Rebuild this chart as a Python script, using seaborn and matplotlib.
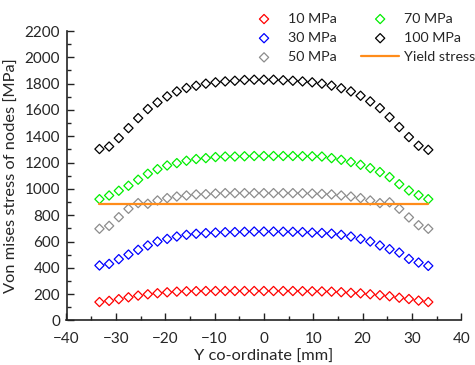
import seaborn as sns
import matplotlib.pyplot as plt
from matplotlib.ticker import MultipleLocator

# Node positions along the section [mm]
y_coord = [-33.32, -31.36, -29.40, -27.44, -25.48, -23.52, -21.56, -19.60, -17.64,
           -15.68, -13.72, -11.76, -9.80, -7.84, -5.88, -3.92, -1.96, 0.00,
           1.96, 3.92, 5.88, 7.84, 9.80, 11.76, 13.72, 15.68, 17.64,
           19.60, 21.56, 23.52, 25.48, 27.44, 29.40, 31.36, 33.32]

# Von mises stress per load case [MPa]
stress_10 = [140, 149, 162, 176, 189, 199, 207, 214, 219, 222, 223, 224, 224, 224, 224, 224, 224,
             224,
             224, 224, 224, 223, 222, 221, 219, 215, 210, 206, 199, 192, 184, 173, 163, 151, 140]
stress_30 = [418, 430, 466, 501, 537, 570, 600, 620, 638, 651, 659, 664, 668, 671, 672, 674, 676,
             676,
             676, 675, 674, 672, 668, 665, 660, 651, 638, 620, 600, 570, 542, 516, 468, 440, 415]
stress_50 = [697, 719, 785, 849, 892, 887, 912, 930, 942, 950, 958, 960, 965, 968, 968, 968, 968,
             968,
             968, 968, 968, 967, 965, 962, 958, 950, 942, 930, 912, 892, 898, 849, 783, 724, 697]
stress_70 = [922, 950, 986, 1024, 1070, 1115, 1150, 1178, 1196, 1214, 1227, 1234, 1242, 1246, 1246, 1248, 1250,
             1250,
             1250, 1250, 1250, 1249, 1248, 1246, 1234, 1221, 1204, 1183, 1158, 1128, 1090, 1036, 988, 952, 922]
stress_100 = [1303, 1322, 1386, 1462, 1538, 1607, 1657, 1703, 1741, 1767, 1784, 1800, 1810, 1817, 1822, 1828, 1830,
              1830,
              1830, 1826, 1822, 1817, 1810, 1800, 1785, 1765, 1741, 1708, 1665, 1614, 1545, 1470, 1394, 1328, 1297]
yield_stress = 887

series = [
    ('10 MPa', stress_10, '#ff0000'),
    ('30 MPa', stress_30, '#0000ff'),
    ('50 MPa', stress_50, '#8c8c8c'),
    ('70 MPa', stress_70, '#00ee00'),
    ('100 MPa', stress_100, '#000000'),
]

sns.set_style('ticks')
plt.rcParams['font.family'] = ['Lato', 'DejaVu Sans']

fig, ax = plt.subplots(figsize=(4.75, 3.65), dpi=100)
fig.subplots_adjust(left=0.140, right=0.971, bottom=0.122, top=0.915)

for label, vals, c in series:
    sns.scatterplot(x=y_coord, y=vals, ax=ax, marker='D', s=22,
                    facecolor='none', edgecolor=c, linewidth=0.9, label=label)

sns.lineplot(x=[y_coord[0], y_coord[-1]], y=[yield_stress, yield_stress], ax=ax,
             color='#ff8c1a', linewidth=1.6, label='Yield stress')

ax.set_xlim(-40, 40)
ax.set_ylim(0, 2200)
ax.xaxis.set_major_locator(MultipleLocator(10))
ax.xaxis.set_minor_locator(MultipleLocator(5))
ax.yaxis.set_major_locator(MultipleLocator(200))
ax.yaxis.set_minor_locator(MultipleLocator(100))
ax.tick_params(which='both', direction='in', color='#222222', labelsize=11, width=1)
ax.tick_params(which='major', length=5)
ax.tick_params(which='minor', length=3)
ax.tick_params(axis='x', which='major', pad=8)
ax.tick_params(axis='y', which='major', pad=4.5)
for side in ['left', 'bottom']:
    ax.spines[side].set_linewidth(1.2)
    ax.spines[side].set_color('#222222')
sns.despine(ax=ax)

ax.set_xlabel('Y co-ordinate [mm]', fontsize=11.8, labelpad=3)
ax.set_ylabel('Von mises stress of nodes [MPa]', fontsize=11.8, labelpad=4)

ax.legend(ncol=2, frameon=False, fontsize=10.3, loc='upper right',
          bbox_to_anchor=(1.0, 0.965), bbox_transform=fig.transFigure,
          handlelength=2.7, handletextpad=0.3, columnspacing=1.7,
          labelspacing=0.5, scatterpoints=1, borderpad=0, borderaxespad=0)

fig.savefig('out.png', dpi=100)
